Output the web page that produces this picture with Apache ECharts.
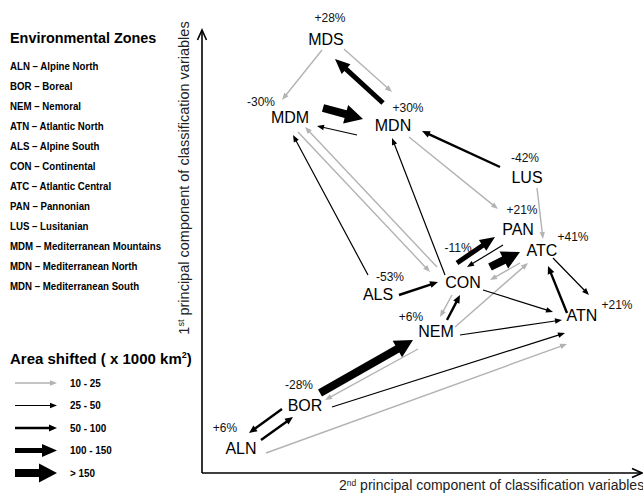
<!DOCTYPE html>
<html>
<head>
<meta charset="utf-8">
<script src="https://cdn.jsdelivr.net/npm/echarts@6/dist/echarts.min.js"></script>
<style>
html,body{margin:0;padding:0;background:#fff;}
#chart{width:643px;height:494px;}
</style>
</head>
<body>
<div id="chart"></div>
<script>
// ---------- DATA ----------
var nodeNames = ['MDS','MDM','MDN','LUS','PAN','ATC','CON','ALS','ATN','NEM','BOR','ALN'];
var nodeX = [326,290,393,527,518,542,463,378,582,436,305,241];
var nodeY = [39,117,125,177,229,250,282,294,315,331,405,448];
var changeLabels = ['+28%','-30%','+30%','-42%','+21%','+41%','-11%','-53%','+21%','+6%','-28%','+6%'];
var changeX = [330,261,408,525,522,573,458,390,617,411,299,225];
var changeY = [18,102,108,158,210,237,248,277,305,317,385,428];

// arrows: from, to, area class (0: 10-25, 1: 25-50, 2: 50-100, 3: 100-150, 4: >150)
var arrowFrom  = ['MDS','MDS','MDN','MDM','MDN','ALS','MDM','CON','CON','LUS','MDN','LUS','CON','PAN','CON','ATC','NEM','ATC','ATN','ALS','CON','CON','NEM','NEM','BOR','NEM','BOR','ALN','BOR','ALN'];
var arrowTo    = ['MDM','MDN','MDS','MDN','MDM','MDM','CON','MDM','MDN','MDN','PAN','ATC','PAN','CON','ATC','CON','ATC','ATN','ATC','CON','ATN','NEM','CON','ATN','NEM','BOR','ATN','ATN','ALN','BOR'];
var arrowClass = [0,0,3,4,1,1,0,0,1,2,0,0,3,1,4,0,0,1,2,2,1,0,2,1,4,0,1,0,2,2];
var arrowStartX = [322,344,383,323,357,368,298,437,445,500,409,537,457,503,490,520,455,553,567,399,483,452,447,460,320,418,332,266,282,261];
var arrowStartY = [50,49,103,108,135,275,132,267,275,167,137,188,263,245,267,263,327,258,313,295,290,295,320,335,393,349,407,453,409,440];
var arrowEndX   = [282,392,335,363,317,293,430,305,392,422,498,543,495,467,520,490,528,589,548,438,553,440,460,562,413,325,565,567,249,293];
var arrowEndY   = [100,92,59,119,126,135,272,127,138,131,209,239,237,267,252,280,263,295,266,282,312,317,295,320,340,400,333,344,433,417];

var zoneLegend = ['ALN \u2013 Alpine North','BOR \u2013 Boreal','NEM \u2013 Nemoral','ATN \u2013 Atlantic North','ALS \u2013 Alpine South','CON \u2013 Continental','ATC \u2013 Atlantic Central','PAN \u2013 Pannonian','LUS \u2013 Lusitanian','MDM \u2013 Mediterranean Mountains','MDN \u2013 Mediterranean North','MDN \u2013 Mediterranean South'];
var areaClassLabels = ['10 - 25','25 - 50','50 - 100','100 - 150','> 150'];

// ---------- STYLES ----------
var classStyle = [
  {w:1.4, hl:7,  hw:5.5, color:'#b3b3b3'},
  {w:1.2, hl:7,  hw:5.5, color:'#000'},
  {w:2.4, hl:8,  hw:7,   color:'#000'},
  {w:5,   hl:15, hw:13,  color:'#000'},
  {w:8,   hl:18, hw:19,  color:'#000'}
];
var FONT = '"Liberation Sans", Arial, sans-serif';

function arrowShape(p1, p2, st) {
  var dx = p2[0]-p1[0], dy = p2[1]-p1[1];
  var L = Math.sqrt(dx*dx+dy*dy);
  var ux = dx/L, uy = dy/L, nx = -uy, ny = ux;
  var bx = p2[0]-ux*st.hl, by = p2[1]-uy*st.hl;
  var w = st.w/2, h = st.hw/2;
  return [
    [p1[0]+nx*w, p1[1]+ny*w],
    [bx+nx*w, by+ny*w],
    [bx+nx*h, by+ny*h],
    [p2[0], p2[1]],
    [bx-nx*h, by-ny*h],
    [bx-nx*w, by-ny*w],
    [p1[0]-nx*w, p1[1]-ny*w]
  ];
}

function renderArrow(params, api) {
  var p1 = api.coord([api.value(0), api.value(1)]);
  var p2 = api.coord([api.value(2), api.value(3)]);
  var st = classStyle[api.value(4)];
  return {
    type: 'polygon',
    shape: {points: arrowShape(p1, p2, st)},
    style: {fill: st.color, stroke: null}
  };
}

function makeTextRenderer(texts, size, color) {
  return function(params, api) {
    var p = api.coord([api.value(0), api.value(1)]);
    return {
      type:'text', x:p[0], y:p[1],
      style:{text:texts[params.dataIndex], fontFamily:FONT, fontSize:size, fill:color,
             stroke:null, lineWidth:0, textAlign:'center', textVerticalAlign:'middle'}
    };
  };
}

var arrowData = arrowClass.map(function(c, i){
  return [arrowStartX[i], arrowStartY[i], arrowEndX[i], arrowEndY[i], c];
});
var legendArrowData = areaClassLabels.map(function(l, i){
  return [15, 383 + 22.5*i, 57, 383 + 22.5*i, i];
});
var nodeData = nodeNames.map(function(n, i){ return [nodeX[i], nodeY[i]]; });
var changeData = changeLabels.map(function(t, i){ return [changeX[i], changeY[i]]; });

var graphics = [];
graphics.push({type:'text', x:10, y:38, scaleX:0.96, style:{text:'Environmental Zones', font:'bold 15px ' + FONT, fill:'#000', textVerticalAlign:'middle'}});
zoneLegend.forEach(function(t, i){
  graphics.push({type:'text', x:10, y:66 + 20*i, scaleX:0.88, style:{text:t, font:'bold 11px ' + FONT, fill:'#000', textVerticalAlign:'middle'}});
});
graphics.push({type:'text', x:10, y:358, style:{
  text:'{a|Area shifted ( x 1000 km}{s|2}{a|)}', textVerticalAlign:'middle',
  rich:{a:{fontFamily:FONT, fontWeight:'bold', fontSize:15, fill:'#000'},
        s:{fontFamily:FONT, fontWeight:'bold', fontSize:9, fill:'#000', verticalAlign:'top', padding:[0,0,6,0]}}
}});
areaClassLabels.forEach(function(t, i){
  graphics.push({type:'text', x:70, y:383 + 22.5*i, scaleX:0.9, style:{text:t, font:'bold 11px ' + FONT, fill:'#000', textVerticalAlign:'middle'}});
});
// axes
graphics.push({type:'polyline', shape:{points:[[202,473],[202,31]]}, style:{stroke:'#000', lineWidth:1.6, fill:null}});
graphics.push({type:'polyline', shape:{points:[[197.5,40],[202,30],[206.5,40]]}, style:{stroke:'#000', lineWidth:1.6, fill:null}});
graphics.push({type:'polyline', shape:{points:[[202,473],[641,473]]}, style:{stroke:'#000', lineWidth:1.6, fill:null}});
graphics.push({type:'polyline', shape:{points:[[632,468.5],[642,473],[632,477.5]]}, style:{stroke:'#000', lineWidth:1.6, fill:null}});
graphics.push({type:'text', x:184, y:178, rotation:Math.PI/2, style:{
  text:'{a|1}{s|st}{a| principal component of classification variables}', textAlign:'center', textVerticalAlign:'middle',
  rich:{a:{fontFamily:FONT, fontSize:14.5, fill:'#222'}, s:{fontFamily:FONT, fontSize:9, fill:'#222', verticalAlign:'top', padding:[0,0,5,0]}}
}});
graphics.push({type:'text', x:339, y:485, style:{
  text:'{a|2}{s|nd}{a| principal component of classification variables}', textVerticalAlign:'middle',
  rich:{a:{fontFamily:FONT, fontSize:14, fill:'#222'}, s:{fontFamily:FONT, fontSize:8.5, fill:'#222', verticalAlign:'top', padding:[0,0,5,0]}}
}});

var chart = echarts.init(document.getElementById('chart'), null, {renderer:'svg'});
chart.setOption({
  backgroundColor:'#fff',
  animation:false,
  grid:{left:0, right:0, top:0, bottom:0},
  xAxis:{type:'value', min:0, max:643, show:false},
  yAxis:{type:'value', min:0, max:494, inverse:true, show:false},
  graphic: graphics,
  series:[
    {type:'custom', renderItem:renderArrow, data:arrowData, encode:{x:[0,2], y:[1,3]}, clip:false, silent:true},
    {type:'custom', renderItem:renderArrow, data:legendArrowData, encode:{x:[0,2], y:[1,3]}, clip:false, silent:true},
    {type:'custom', renderItem:makeTextRenderer(nodeNames, 16, '#000'), data:nodeData, encode:{x:0, y:1}, clip:false, silent:true},
    {type:'custom', renderItem:makeTextRenderer(changeLabels, 12, '#111'), data:changeData, encode:{x:0, y:1}, clip:false, silent:true}
  ]
});
</script>
</body>
</html>
